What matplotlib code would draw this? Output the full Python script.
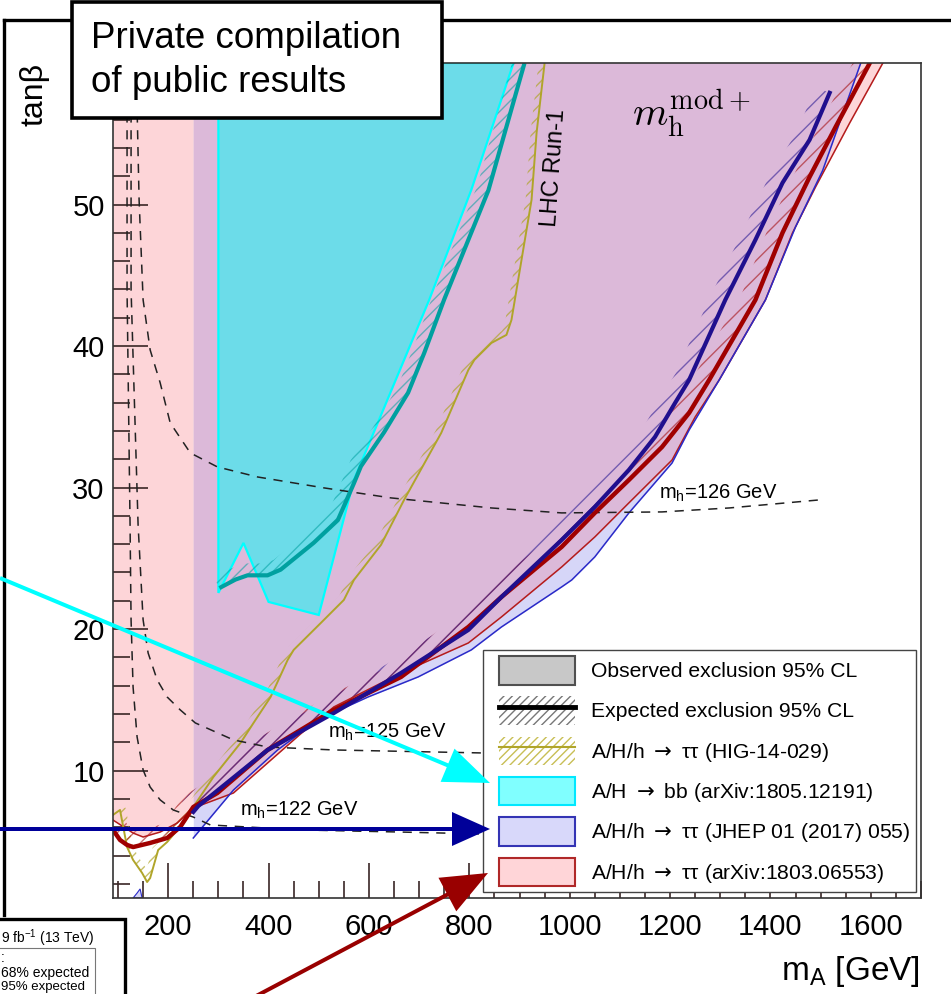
import numpy as np
import matplotlib
matplotlib.use('Agg')
import matplotlib.pyplot as plt
from matplotlib.patches import Polygon, Rectangle, Patch, FancyArrow
from matplotlib.lines import Line2D
from matplotlib.transforms import IdentityTransform

plt.rcParams['font.family'] = ['Liberation Sans', 'DejaVu Sans']
plt.rcParams['mathtext.fontset'] = 'custom'
plt.rcParams['mathtext.rm'] = 'Liberation Sans'
plt.rcParams['mathtext.it'] = 'Liberation Sans:italic'
plt.rcParams['mathtext.bf'] = 'Liberation Sans:bold'
plt.rcParams['hatch.linewidth'] = 1.0

# ---------------- data ----------------
x_ticks = [200, 400, 600, 800, 1000, 1200, 1400, 1600]
y_ticks = [10, 20, 30, 40, 50]

# A/H/h -> tautau (arXiv:1803.06553): observed boundary and expected
red_obs_m = [90, 130, 150, 184, 218, 250, 330, 398, 464, 530, 664, 798, 864, 984, 1050, 1118, 1204, 1250, 1298, 1390, 1444, 1490, 1558, 1624]
red_obs_t = [6.51, 5.59, 5.31, 5.66, 6.30, 7.36, 8.42, 10.54, 12.6, 14.5, 16.9, 19.02, 20.86, 24.39, 26.51, 28.92, 31.95, 34.99, 37.61, 43.26, 48.0, 51.25, 55.77, 60.0]
red_exp_m = [90, 104, 118, 130, 164, 198, 224, 250, 298, 398, 530, 664, 798, 864, 984, 1050, 1118, 1184, 1238, 1278, 1370, 1424, 1478, 1530, 1598]
red_exp_t = [5.81, 5.10, 4.75, 4.60, 4.89, 5.24, 6.02, 7.43, 8.42, 11.46, 14.29, 16.62, 20.15, 22.27, 25.81, 28.21, 30.54, 32.87, 35.28, 37.61, 43.26, 48.0, 51.95, 55.49, 60.0]

# A/H/h -> tautau (JHEP 01 (2017) 055)
blue_obs_m = [250, 330, 418, 498, 598, 698, 804, 864, 984, 1004, 1050, 1118, 1204, 1238, 1298, 1390, 1450, 1504, 1580]
blue_obs_t = [5.24, 8.63, 11.46, 13.58, 15.20, 16.62, 18.53, 20.15, 22.98, 23.47, 25.10, 28.21, 31.74, 34.07, 37.61, 43.26, 48.42, 52.4, 60.0]
blue_exp_m = [250, 260, 398, 530, 664, 798, 864, 984, 1050, 1118, 1170, 1210, 1238, 1310, 1370, 1424, 1478, 1518]
blue_exp_t = [7.08, 7.5, 11.46, 14.07, 16.90, 19.94, 22.27, 26.30, 28.63, 31.25, 33.58, 35.98, 37.61, 43.26, 47.5, 51.53, 54.57, 57.89]
blue_low_m = [130, 138, 144, 148]
blue_low_t = [1.0, 1.35, 1.64, 1.0]

# A/H -> bb (arXiv:1805.12191)
bb_obs_m = [300, 300, 350, 400, 500, 570, 720, 804, 888]
bb_obs_t = [60.0, 22.56, 26.09, 21.92, 21.0, 30.54, 43.26, 51.04, 60.0]
bb_exp_m = [302, 334, 358, 398, 424, 490, 538, 570, 584, 630, 678, 710, 750, 838, 910]
bb_exp_t = [22.9, 23.5, 23.8, 23.8, 24.2, 26.1, 27.7, 30.3, 31.5, 33.9, 36.7, 39.5, 43.3, 51.0, 60.0]

# A/H/h -> tautau (HIG-14-029), LHC Run-1
run1_m = [90, 104, 118, 130, 148, 158, 164, 180, 198, 230, 250, 290, 344, 370, 404, 438, 450, 504, 550, 570, 624, 670, 744, 798, 810, 844, 874, 884, 904, 924, 934, 950]
run1_t = [6.87, 7.22, 4.60, 3.69, 2.77, 2.13, 2.41, 4.39, 4.96, 6.30, 7.43, 9.55, 11.95, 13.37, 15.2, 17.82, 18.53, 20.43, 22.06, 23.47, 25.95, 29.13, 33.86, 38.31, 39.02, 40.22, 40.79, 41.85, 46.09, 50.33, 55.06, 60.0]

# m_h contours
mh122_m = [118, 118, 124, 126, 130, 138, 150, 164, 184, 210, 250, 284, 464, 664, 830, 1000]
mh122_t = [60, 43.97, 27.36, 20.65, 15.91, 12.38, 10.05, 8.84, 7.93, 7.22, 6.72, 6.16, 5.81, 5.66, 5.52, 5.45]
mh125_m = [126, 126, 140, 150, 160, 178, 198, 224, 254, 330, 398, 530, 824, 984]
mh125_t = [60, 43.97, 27.36, 20.65, 18.31, 16.41, 15.2, 14.29, 13.37, 12.17, 11.67, 11.46, 11.25, 11.18]
mh126_m = [136, 142, 150, 164, 184, 204, 244, 298, 378, 510, 644, 844, 984, 1184, 1318, 1498]
mh126_t = [60, 50.33, 43.26, 39.73, 37.4, 34.57, 32.45, 31.46, 30.75, 29.98, 29.27, 28.56, 28.21, 28.28, 28.56, 29.13]

legend_labels = ['Observed exclusion 95% CL', 'Expected exclusion 95% CL',
                 'A/H/h $\\rightarrow$ \u03c4\u03c4 (HIG-14-029)', 'A/H $\\rightarrow$ bb (arXiv:1805.12191)',
                 'A/H/h $\\rightarrow$ \u03c4\u03c4 (JHEP 01 (2017) 055)', 'A/H/h $\\rightarrow$ \u03c4\u03c4 (arXiv:1803.06553)']

# ---------------- colours ----------------
PINK = '#fdd5d8'
PURPLE = '#dcb9d9'
LAV = '#d6d6f8'
CYAN_F = '#6cdce9'
CYAN_E = '#00ffff'
TEAL = '#00a0a0'
RED = '#a00000'
RED_T = '#b41c1c'
BLUE = '#200f8e'
BLUE_T = '#2a2ac8'
OLIVE = '#b0a52a'

W, H = 951, 994
fig = plt.figure(figsize=(W / 100, H / 100), dpi=100)
fig.patch.set_facecolor('white')

def fx(px):
    return px / W

def fy(py):
    return 1 - py / H

ax = fig.add_axes([fx(113), fy(898), fx(921) - fx(113), fy(63) - fy(898)])
ax.set_xlim(90, 1700)
ax.set_ylim(1, 60)

# ---------------- filled regions ----------------
mg = np.arange(90, 1701, 1.0)
red_lo = np.interp(mg, red_obs_m, red_obs_t, right=60.0)
blue_lo = np.interp(mg, blue_obs_m, blue_obs_t, left=60.0, right=60.0)
ax.fill_between(mg, red_lo, 60, where=mg <= red_obs_m[-1], color=PINK, lw=0, zorder=1)
inb = (mg >= blue_obs_m[0]) & (mg <= blue_obs_m[-1])
ax.fill_between(mg, blue_lo, 60, where=inb, color=LAV, lw=0, zorder=1.1)
ax.fill_between(mg, np.maximum(blue_lo, red_lo), 60, where=inb & (mg <= red_obs_m[-1]),
                color=PURPLE, lw=0, zorder=1.2)
ax.add_patch(Polygon(np.column_stack([blue_low_m, blue_low_t]), closed=True,
                     facecolor=LAV, edgecolor=BLUE_T, lw=0.8, zorder=1.3))

# bb region
ax.add_patch(Polygon(np.column_stack([bb_obs_m, bb_obs_t]), closed=True,
                     facecolor=CYAN_F, edgecolor=CYAN_E, lw=1.6, zorder=2))


def band(m, t, width_px, side=1):
    pts = ax.transData.transform(np.column_stack([m, t]).astype(float))
    d = np.gradient(pts, axis=0)
    n = np.column_stack([-d[:, 1], d[:, 0]])
    n /= np.linalg.norm(n, axis=1)[:, None]
    off = ax.transData.inverted().transform(pts + side * width_px * n)
    return np.vstack([np.column_stack([m, t]), off[::-1]])

# hatch bands
for (m, t, c, w, hp, a) in [
        (bb_exp_m, bb_exp_t, TEAL, 12, '///', 0.55),
        (run1_m, run1_t, OLIVE, 6, '///', 0.7),
        (red_exp_m, red_exp_t, RED, 15, '//', 0.55),
        (blue_exp_m, blue_exp_t, BLUE, 15, '//', 0.55)]:
    ax.add_patch(Polygon(band(m, t, w), closed=True, facecolor='none', edgecolor=c,
                         lw=0, hatch=hp, alpha=a, zorder=3))

# observed boundary lines
ax.plot(red_obs_m, red_obs_t, color=RED_T, lw=1.1, zorder=4)
ax.plot(blue_obs_m, blue_obs_t, color=BLUE_T, lw=1.1, zorder=4)
ax.plot(run1_m, run1_t, color=OLIVE, lw=1.4, zorder=4)

# m_h contours
for m, t in [(mh122_m, mh122_t), (mh125_m, mh125_t), (mh126_m, mh126_t)]:
    ax.plot(m, t, color='#222222', lw=1.1, ls=(0, (6, 5)), zorder=4.5)

# expected lines
ax.plot(bb_exp_m, bb_exp_t, color=TEAL, lw=3.0, zorder=5, solid_capstyle='butt')
ax.plot(red_exp_m, red_exp_t, color=RED, lw=3.2, zorder=5)
ax.plot(blue_exp_m, blue_exp_t, color=BLUE, lw=3.0, zorder=5.1)

# text in the plot
ax.text(1178, 29.2, 'm$_{\\mathrm{h}}$=126 GeV', fontsize=14.5, ha='left', va='baseline', zorder=6)
ax.text(518, 12.3, 'm$_{\\mathrm{h}}$=125 GeV', fontsize=14.5, ha='left', va='baseline', zorder=6)
ax.text(344, 6.8, 'm$_{\\mathrm{h}}$=122 GeV', fontsize=14.5, ha='left', va='baseline', zorder=6)
ax.text(968, 52.6, 'LHC Run-1', fontsize=17, rotation=86, ha='center', va='center', zorder=6)
ax.text(1124, 55.5, r'$m_{\mathrm{h}}^{\mathrm{mod+}}$', fontsize=29, math_fontfamily='cm',
        ha='left', va='baseline', zorder=6)

# axes style
ax.set_xticks(x_ticks)
ax.set_yticks(y_ticks)
ax.set_xticks(np.arange(100, 1701, 50), minor=True)
ax.set_yticks(np.arange(2, 60, 2), minor=True)
ax.tick_params(axis='both', which='both', direction='in', top=False, right=False, color='#3a2626')
ax.tick_params(axis='both', which='major', length=25, width=1.2, labelsize=21)
ax.tick_params(axis='both', which='minor', length=12, width=1.2)
ax.tick_params(axis='x', which='major', pad=11)
ax.tick_params(axis='y', which='major', pad=6)
for s in ax.spines.values():
    s.set_color('#333333')
    s.set_linewidth(1.2)
    s.set_zorder(7)

fig.text(fx(920), fy(980), 'm$_{\\mathrm{A}}$ [GeV]', fontsize=24, ha='right', va='baseline')
fig.text(fx(35), fy(63), 'tan\u03b2', fontsize=23, rotation=90, ha='center', va='top')

# legend
handles = [
    Patch(facecolor='#c8c8c8', edgecolor='#505050', lw=1.5),
    (Patch(facecolor='none', edgecolor='#777777', hatch='////', lw=0),
     Line2D([], [], color='black', lw=3.5)),
    (Patch(facecolor='none', edgecolor='#c8bf55', hatch='////', lw=0),
     Line2D([], [], color=OLIVE, lw=1.5)),
    Patch(facecolor='#80ffff', edgecolor='#00e8ff', lw=1.5),
    Patch(facecolor='#d8d8fa', edgecolor='#3434b4', lw=1.5),
    Patch(facecolor='#ffd5d8', edgecolor='#b02828', lw=1.5),
]
fig.add_artist(Rectangle((fx(483), fy(892)), fx(916) - fx(483), fy(650) - fy(892),
                         facecolor='white', edgecolor='#444444', lw=1.0,
                         transform=fig.transFigure, zorder=7.9))
leg = fig.legend(handles, legend_labels, loc='upper left',
                 bbox_to_anchor=(fx(499), fy(656)), bbox_transform=fig.transFigure,
                 fontsize=15.2, frameon=False, borderpad=0, handlelength=3.6,
                 handleheight=1.7, handletextpad=0.75, labelspacing=0.56, borderaxespad=0)
for t in leg.get_texts():
    t.set_math_fontfamily('dejavusans')
leg.set_zorder(8)

# outer frame of the surrounding page
fig.add_artist(Line2D([fx(4), fx(4)], [fy(20), fy(915)], color='black', lw=2.4, transform=fig.transFigure, zorder=9))
fig.add_artist(Line2D([fx(4), fx(951)], [fy(20), fy(20)], color='black', lw=2.4, transform=fig.transFigure, zorder=9))

# bottom-left neighbouring panel (cropped)
fig.add_artist(Rectangle((fx(-10), fy(1010)), fx(135), fy(919) - fy(1010), facecolor='white',
                         edgecolor='black', lw=2.4, transform=fig.transFigure, zorder=9))
fig.add_artist(Rectangle((fx(-10), fy(1010)), fx(105), fy(948) - fy(1010), facecolor='white',
                         edgecolor='#777777', lw=0.8, transform=fig.transFigure, zorder=9.1))
fig.text(fx(1), fy(943), '9 fb$^{-1}$ (13 TeV)', fontsize=10, ha='left', va='baseline', zorder=9.2)
fig.text(fx(1), fy(962), ':', fontsize=10, ha='left', va='baseline', zorder=9.2)
fig.text(fx(1), fy(977), '68% expected', fontsize=10, ha='left', va='baseline', zorder=9.2)
fig.text(fx(1), fy(990), '95% expected', fontsize=9.5, ha='left', va='baseline', zorder=9.2)

# title box
fig.add_artist(Rectangle((fx(72), fy(118)), fx(442) - fx(72), fy(2) - fy(118), facecolor='white',
                         edgecolor='black', lw=2.6, transform=fig.transFigure, zorder=10))
fig.text(fx(91), fy(48), 'Private compilation', fontsize=26.5, ha='left', va='baseline', zorder=11)
fig.text(fx(91), fy(92), 'of public results', fontsize=26.5, ha='left', va='baseline', zorder=11)

# arrows (display pixel coordinates)
def arrow(x0, y0, x1, y1, color, hl, hw):
    a = FancyArrow(x0, H - y0, x1 - x0, -(y1 - y0), width=4, head_width=hw, head_length=hl,
                   length_includes_head=True, color=color, lw=0, transform=IdentityTransform(),
                   zorder=12)
    fig.add_artist(a)

arrow(0, 578, 490, 783, '#00ffff', 46, 36)
arrow(0, 829, 490, 829, '#000099', 38, 34)
arrow(243, 1003, 488, 873, '#990000', 46, 38)

fig.savefig('out.png', dpi=100)
